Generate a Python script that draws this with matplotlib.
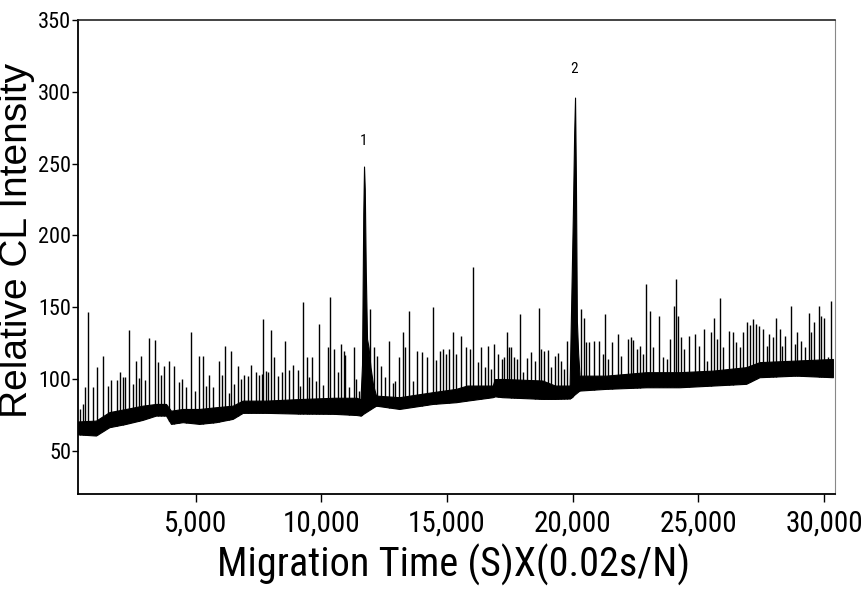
"""Electropherogram: relative CL intensity vs migration time."""

import numpy as np
import matplotlib
matplotlib.use("Agg")
from matplotlib import pyplot as plt

# dense noise band (lower / upper edge)
env_x = [320, 1035, 1565, 2229, 2893, 3423, 3821, 4020, 4485, 5147, 5811, 6476,
         6873, 7801, 9000, 10500, 11400, 11560, 12178, 13106, 14435, 15362,
         15800, 16822, 16900, 17200, 18800, 19300, 19880, 20270, 21332, 22925,
         24247, 25577, 26904, 27434, 28893, 30355]
env_low = [61.5, 60.7, 66.5, 68.8, 71.6, 74.6, 74.6, 68.8, 70.0, 68.8, 70.0, 72.3,
           76.5, 76.5, 76.0, 75.8, 75.0, 74.6, 81.5, 79.2, 82.7, 83.9,
           85.0, 87.4, 88.0, 87.4, 86.2, 86.2, 86.5, 92.0, 93.2, 94.3,
           94.3, 95.5, 96.7, 101.3, 102.4, 101.3]
env_high = [70.5, 71.1, 77.0, 79.2, 81.5, 82.7, 82.7, 78.0, 79.2, 79.2, 80.4, 81.5,
            85.0, 85.0, 86.0, 87.0, 87.0, 86.0, 88.5, 87.4, 90.9, 93.2,
            95.5, 95.5, 100.0, 100.1, 99.0, 95.5, 95.5, 102.4, 102.4, 104.8,
            104.8, 105.9, 108.3, 111.8, 112.9, 114.0]

# narrow noise spikes: position, top
spike_x = [398, 505, 597, 716, 903, 1062, 1327, 1526, 1632, 1858, 1978, 2097, 2189,
           2335, 2494, 2627, 2733, 2839, 2998, 3144, 3370, 3502, 3635, 3728, 3953,
           4126, 4326, 4445, 4617, 4816, 4975, 5122, 5281, 5413, 5532, 5679, 5918,
           6037, 6169, 6315, 6420, 6539, 6686, 6793, 6937, 7084, 7204, 7403, 7510,
           7642, 7695, 7801, 7868, 8012, 8119, 8290, 8425, 8557, 8703, 8887, 9062,
           9154, 9286, 9420, 9524, 9643, 9779, 9910, 10057, 10268, 10362, 10520,
           10666, 10773, 10905, 10957, 11092, 11316, 11382, 11514, 11940, 12111,
           12218, 12377, 12536, 12708, 12842, 12947, 13082, 13241, 13321, 13504,
           13663, 13810, 14021, 14220, 14435, 14566, 14725, 14832, 14964, 15070,
           15229, 15362, 15561, 15760, 15932, 16050, 16225, 16369, 16503, 16636,
           16743, 16862, 17047, 17180, 17285, 17404, 17460, 17551, 17683, 17790,
           17898, 18016, 18187, 18347, 18493, 18652, 18744, 18877, 19025, 19144,
           19291, 19410, 19539, 19646, 19779, 20321, 20454, 20533, 20666, 20851,
           21038, 21200, 21304, 21412, 21571, 21798, 21928, 22195, 22326, 22418,
           22565, 22685, 22793, 22925, 23082, 23190, 23429, 23588, 23747, 23890,
           24036, 24116, 24210, 24315, 24449, 24648, 24862, 25045, 25244, 25350,
           25509, 25641, 25736, 25855, 25998, 26213, 26372, 26505, 26664, 26771,
           26931, 27062, 27195, 27302, 27434, 27569, 27728, 27832, 27968, 28099,
           28233, 28339, 28458, 28686, 28830, 28922, 29089, 29249, 29395, 29487,
           29621, 29793, 29885, 30018, 30152, 30283]
spike_y = [79, 83, 94.6, 146.8, 94.6, 108.5, 116.4, 95.5, 99.7, 99.7, 105.2, 101.7,
           101.7, 134.3, 96.7, 112.9, 100.6, 116.4, 99.7, 128.7, 127.1, 111.8,
           102.9, 109, 112.9, 109, 97.8, 100.1, 94.3, 133.1, 92, 116.4, 116.4,
           95.5, 103.1, 94.3, 112.9, 102.9, 123.3, 90.4, 119.8, 96.7, 109, 100.1,
           102.9, 102.4, 110.1, 105.2, 102.9, 103.6, 141.9, 105.9, 104.8, 134.3,
           115.2, 102.4, 105.2, 126.8, 106.4, 109.9, 106.4, 95.5, 153.5, 115.2,
           101.3, 115.2, 99, 138.4, 96, 122.6, 157, 121, 105.2, 124.5, 119.8,
           116.9, 94.8, 122.2, 100.1, 92, 148.9, 122.2, 116.4, 109.4, 101.3, 126.8,
           97.4, 99, 115.2, 133.1, 122.2, 147.7, 99, 119.8, 119.2, 115.2, 150.1,
           113.6, 119.8, 121, 117.5, 121, 132.7, 117.5, 130.3, 122.2, 121, 178,
           111.8, 122.2, 108.3, 123.3, 107.1, 124.5, 117.5, 114, 115.7, 133.1,
           122.2, 122.2, 115.2, 114, 145.4, 104.8, 114.8, 118.7, 112.9, 149.6, 121,
           119.8, 120.5, 108.3, 115.9, 118.2, 112.9, 107.1, 126.8, 148.9, 142.4,
           125.7, 125.7, 126.8, 126.8, 117.5, 145.4, 114, 125.7, 131.5, 115.9, 128,
           129.2, 127.5, 121, 123.3, 117.5, 166.3, 147.3, 122.2, 143.8, 115.2, 114,
           128, 151.2, 170, 143.8, 129.2, 121, 130.3, 131.5, 123.3, 135, 112.9,
           132.7, 142.4, 128, 156.5, 122.2, 133.8, 132.7, 125.7, 122.2, 132.7, 140,
           137.7, 141.9, 138.4, 137.3, 135, 123.3, 131.5, 129.2, 142.4, 135, 123.3,
           130.3, 151.2, 124.5, 132.7, 126.8, 122.2, 146.1, 132.7, 139.6, 151.2,
           143.8, 142.4, 115.2, 154.2]

# the two analyte peaks
peak1_x = [11560, 11620, 11670, 11700, 11730, 11770, 11820, 11880, 11960, 12060, 12178]
peak1_top = [86, 110, 215, 248, 232, 175, 128, 122, 108, 96, 88.5]
peak1_low = [74.6, 75, 78, 82, 84, 84, 83, 82, 82, 81.5, 81.5]
peak2_x = [19880, 19940, 20010, 20060, 20096, 20130, 20170, 20220, 20270]
peak2_top = [96, 150, 215, 270, 296, 240, 140, 118, 104]
peak2_low = [86.5, 87, 88, 90, 92, 93, 93, 92, 92]

peak_labels = ["1", "2"]
label_x = [11660, 20055]
label_y = [266, 316]

x_ticks = [5000, 10000, 15000, 20000, 25000, 30000]
y_ticks = [50, 100, 150, 200, 250, 300, 350]

NARROW = ["Roboto Condensed", "DejaVu Sans"]
REGULAR = ["Liberation Sans", "DejaVu Sans"]


def run():
    fig = plt.figure(figsize=(8.62, 5.99), dpi=100)
    ax = fig.add_axes([0.0905, 0.1753, 0.8782, 0.7913])

    ax.fill_between(env_x, env_low, env_high, color="black", lw=0.8)
    base = np.interp(spike_x, env_x, env_low)
    ax.vlines(spike_x, base, spike_y, color="black", lw=1.0)
    ax.fill_between(peak1_x, peak1_low, peak1_top, color="black", lw=0.8)
    ax.fill_between(peak2_x, peak2_low, peak2_top, color="black", lw=0.8)

    for txt, lx, ly in zip(peak_labels, label_x, label_y):
        ax.text(lx, ly, txt, ha="center", va="center", fontsize=11, family=NARROW)

    ax.set_xlim(320, 30440)
    ax.set_ylim(20, 350)
    ax.set_xticks(x_ticks)
    ax.set_xticklabels([f"{v:,}" for v in x_ticks], family=NARROW, fontsize=21)
    ax.set_yticks(y_ticks)
    ax.set_yticklabels([str(v) for v in y_ticks], family=NARROW, fontsize=16)
    ax.tick_params(axis="x", length=6, width=1, pad=5)
    ax.tick_params(axis="y", length=4, width=1, pad=1)

    ax.spines["left"].set_linewidth(1.3)
    ax.spines["bottom"].set_linewidth(1.3)
    ax.spines["top"].set_linewidth(1.2)
    ax.spines["top"].set_color("#222222")
    ax.spines["right"].set_linewidth(0.8)
    ax.spines["right"].set_color("#888888")

    ax.set_xlabel("Migration Time (S)X(0.02s/N)", family=NARROW, fontsize=29)
    ax.xaxis.set_label_coords(0.4955, -0.105)
    ax.set_ylabel("Relative CL Intensity", family=REGULAR, fontsize=28)
    ax.yaxis.set_label_coords(-0.057, 0.534)

    fig.savefig("out.png", dpi=100)


if __name__ == "__main__":
    run()
